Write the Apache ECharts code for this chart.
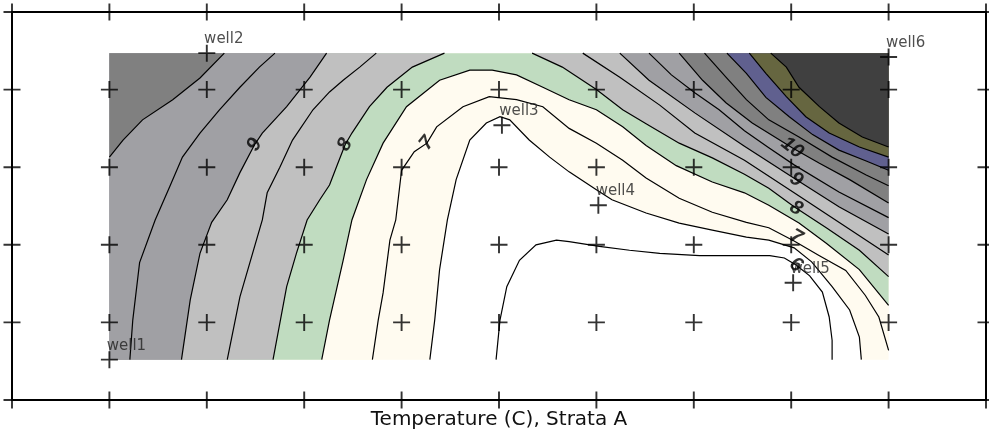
<!DOCTYPE html>
<html><head><meta charset="utf-8">
<script src="https://cdn.jsdelivr.net/npm/echarts@6/dist/echarts.min.js"></script>
<style>html,body{margin:0;padding:0;background:#fff}#c{width:989px;height:441px}</style>
</head><body><div id="c"></div>
<script>
// ---------- data ----------
const chartTitle = 'Temperature (C), Strata A';

const wellNames = ['well1', 'well2', 'well3', 'well4', 'well5', 'well6'];
const wellX = [1.00, 2.00, 5.03, 6.02, 8.02, 9.00];
const wellY = [0.52, 4.47, 3.54, 2.51, 1.51, 4.42];

const markerX = [0, 1, 2, 3, 4, 5, 6, 7, 8, 9, 10];
const markerY = [0, 1, 2, 3, 4, 5];

// contour lines (map units), oriented so that higher values lie on the left
const c6 = [[4.97,0.52],[5.01,1.03],[5.08,1.46],[5.21,1.80],[5.38,2.00],[5.59,2.06],[5.72,2.04],[6.03,1.98],[6.34,1.93],[6.65,1.89],[7.06,1.86],[7.47,1.86],[7.78,1.86],[7.93,1.83],[8.05,1.74],[8.19,1.60],[8.32,1.39],[8.39,1.07],[8.42,0.77],[8.42,0.52]];
const c6_5 = [[4.29,0.52],[4.34,1.03],[4.39,1.68],[4.47,2.32],[4.56,2.84],[4.70,3.35],[4.87,3.57],[5.01,3.65],[5.11,3.61],[5.31,3.35],[5.52,3.13],[5.72,2.94],[6.00,2.71],[6.16,2.58],[6.51,2.41],[6.85,2.28],[7.19,2.19],[7.54,2.10],[7.77,2.06],[8.03,1.96],[8.21,1.78],[8.42,1.46],[8.60,1.16],[8.70,0.81],[8.72,0.52]];
const c7 = [[3.70,0.52],[3.76,1.03],[3.81,1.38],[3.88,2.06],[3.94,2.32],[4.00,2.96],[4.13,3.20],[4.26,3.31],[4.36,3.52],[4.63,3.78],[4.90,3.91],[5.18,3.87],[5.45,3.78],[5.72,3.50],[6.00,3.31],[6.27,3.09],[6.51,2.86],[6.85,2.60],[7.19,2.42],[7.54,2.29],[7.77,2.22],[8.03,2.05],[8.29,1.86],[8.56,1.67],[8.76,1.35],[8.90,1.07],[9.00,0.64]];
const c7_5 = [[3.18,0.52],[3.26,1.03],[3.40,1.80],[3.49,2.32],[3.64,2.84],[3.81,3.31],[4.05,3.78],[4.39,4.12],[4.70,4.25],[4.93,4.25],[5.18,4.19],[5.45,4.03],[5.72,3.87],[6.00,3.74],[6.27,3.52],[6.51,3.28],[6.82,3.02],[7.19,2.81],[7.52,2.67],[7.77,2.51],[8.08,2.28],[8.36,2.02],[8.70,1.68],[9.00,1.22]];
const c8_west = [[2.68,0.52],[2.82,1.46],[2.92,1.89],[3.03,2.32],[3.16,2.58],[3.26,2.77],[3.33,3.00],[3.42,3.29],[3.49,3.44],[3.67,3.78],[3.85,4.03],[4.11,4.29],[4.44,4.47]];
const c8_east = [[5.34,4.47],[5.65,4.29],[6.00,4.00],[6.27,3.74],[6.51,3.56],[6.85,3.31],[7.19,3.12],[7.52,2.91],[7.77,2.73],[8.03,2.49],[8.36,2.22],[8.70,1.93],[9.00,1.59]];
const c8_5_west = [[2.21,0.52],[2.34,1.33],[2.47,1.89],[2.57,2.32],[2.62,2.67],[2.75,3.00],[2.88,3.35],[3.09,3.74],[3.26,3.97],[3.40,4.12],[3.57,4.29],[3.74,4.47]];
const c8_5_east = [[5.86,4.47],[6.24,4.16],[6.65,3.80],[7.01,3.44],[7.52,3.09],[8.03,2.67],[8.49,2.29],[9.00,1.87]];
const c9_west = [[1.74,0.52],[1.83,1.29],[1.93,1.89],[2.05,2.29],[2.21,2.58],[2.34,2.93],[2.49,3.29],[2.57,3.44],[2.82,3.78],[3.06,4.16],[3.23,4.47]];
const c9_east = [[6.24,4.47],[6.54,4.12],[7.01,3.70],[7.52,3.27],[8.05,2.84],[8.49,2.49],[9.00,2.14]];
const c9_5_west = [[1.21,0.52],[1.24,1.03],[1.31,1.77],[1.47,2.32],[1.62,2.75],[1.75,3.13],[1.93,3.44],[2.13,3.74],[2.34,4.03],[2.54,4.29],[2.70,4.47]];
const c9_5_east = [[6.54,4.47],[6.77,4.19],[7.01,3.96],[7.26,3.74],[7.52,3.47],[7.77,3.25],[8.03,3.03],[8.49,2.68],[9.00,2.35]];
const c10_west = [[1.00,3.13],[1.14,3.35],[1.34,3.61],[1.65,3.87],[1.93,4.15],[2.18,4.47]];
const c10_east = [[6.85,4.47],[7.09,4.12],[7.33,3.83],[7.60,3.57],[8.01,3.25],[8.29,3.05],[8.60,2.84],[9.00,2.54]];
const c10_5 = [[7.11,4.47],[7.33,4.16],[7.54,3.87],[7.77,3.61],[8.08,3.39],[8.42,3.13],[8.77,2.90],[9.00,2.76]];
const c11 = [[7.34,4.47],[7.54,4.21],[7.74,3.90],[7.98,3.65],[8.22,3.42],[8.49,3.22],[8.77,3.08],[9.00,2.96]];
const c11_5 = [[7.57,4.47],[7.74,4.21],[7.95,3.91],[8.15,3.65],[8.39,3.44],[8.70,3.26],[9.00,3.13]];
const c12 = [[7.79,4.47],[7.95,4.29],[8.08,4.03],[8.29,3.78],[8.49,3.57],[8.73,3.39],[9.00,3.26]];

// colour bands: value ranges starting at these levels
const bandStart = [6, 6.5, 7.5, 8, 9, 10, 11, 11.5, 12];

// contour labels
const labelText = ['9', '8', '7', '10', '9', '8', '7', '6'];
const labelX = [2.49, 3.42, 4.26, 8.01, 8.05, 8.05, 8.05, 8.05];
const labelY = [3.29, 3.29, 3.31, 3.25, 2.84, 2.47, 2.10, 1.74];
const labelAngle = [62, 62, 52, -38, -33, -30, -30, -35];

// ---------- styles ----------
const bandColor = ['#ffffff', '#fffbf0', '#c0dcc0', '#c0c0c0', '#a0a0a4', '#808080', '#60608f', '#666640', '#404040'];

// ---------- build ----------
const contours = [
  {level: 6, pts: c6}, {level: 6.5, pts: c6_5}, {level: 7, pts: c7}, {level: 7.5, pts: c7_5},
  {level: 8, pts: c8_west}, {level: 8, pts: c8_east},
  {level: 8.5, pts: c8_5_west}, {level: 8.5, pts: c8_5_east},
  {level: 9, pts: c9_west}, {level: 9, pts: c9_east},
  {level: 9.5, pts: c9_5_west}, {level: 9.5, pts: c9_5_east},
  {level: 10, pts: c10_west}, {level: 10, pts: c10_east},
  {level: 10.5, pts: c10_5}, {level: 11, pts: c11}, {level: 11.5, pts: c11_5}, {level: 12, pts: c12}
];

const X0 = Math.min(...wellX), X1 = Math.max(...wellX);
const Y0 = Math.min(...wellY), Y1 = Math.max(...wellY);
const W = X1 - X0, H = Y1 - Y0, P = 2 * (W + H);

function snap(q) {
  const d = [Math.abs(q[1] - Y0), Math.abs(q[0] - X1), Math.abs(q[1] - Y1), Math.abs(q[0] - X0)];
  const k = d.indexOf(Math.min(...d));
  if (k === 0) q[1] = Y0; else if (k === 1) q[0] = X1; else if (k === 2) q[1] = Y1; else q[0] = X0;
  return k;
}
function perim(q, k) {
  if (k === 0) return q[0] - X0;
  if (k === 1) return W + (q[1] - Y0);
  if (k === 2) return W + H + (X1 - q[0]);
  return 2 * W + H + (Y1 - q[1]);
}
function colorFor(level) {
  let c = bandColor[0];
  bandStart.forEach((b, i) => { if (level >= b) c = bandColor[i]; });
  return c;
}
const pieces = contours.map(c => {
  const pts = c.pts.map(q => [q[0], q[1]]);
  const ka = snap(pts[0]);
  const kb = snap(pts[pts.length - 1]);
  const s = perim(pts[pts.length - 1], kb);
  let t = perim(pts[0], ka);
  if (t <= s) t += P;
  const corners = [[X0, Y0, 0], [X1, Y0, W], [X1, Y1, W + H], [X0, Y1, 2 * W + H]];
  const extra = [];
  [0, P].forEach(rep => corners.forEach(cc => {
    const cs = cc[2] + rep;
    if (cs > s + 1e-9 && cs < t - 1e-9) extra.push([cs, [cc[0], cc[1]]]);
  }));
  extra.sort((a, b) => a[0] - b[0]);
  return {line: pts, poly: pts.concat(extra.map(e => e[1])), color: colorFor(c.level)};
});

const crossPath = 'path://M7.1,0H8.9V7.1H16V8.9H8.9V16H7.1V8.9H0V7.1H7.1Z';
const markers = [];
markerY.forEach(y => markerX.forEach(x => markers.push([x, y])));

const chart = echarts.init(document.getElementById('c'), null, {renderer: 'canvas'});
chart.setOption({
  animation: false,
  backgroundColor: '#ffffff',
  grid: {left: 12, right: 3, top: 12, bottom: 41, show: true, borderColor: '#000', borderWidth: 2, backgroundColor: 'transparent'},
  xAxis: {type: 'value', min: 0, max: 10, show: false},
  yAxis: {type: 'value', min: 0, max: 5, show: false},
  graphic: [{
    type: 'text', x: 499, y: 410, silent: true,
    style: {text: chartTitle, align: 'center', verticalAlign: 'top', textAlign: 'center', textVerticalAlign: 'top',
            fontFamily: 'DejaVu Sans', fontSize: 20, fill: '#111'}
  }],
  series: [
    {
      type: 'custom', coordinateSystem: 'cartesian2d', silent: true, z: 1,
      data: pieces.map(p => [p.line[0][0], p.line[0][1]]),
      encode: {x: 0, y: 1},
      renderItem: (params, api) => {
        const p = pieces[params.dataIndex];
        return {type: 'polygon', shape: {points: p.poly.map(q => api.coord(q))}, style: {fill: p.color, stroke: null}};
      }
    },
    {
      type: 'custom', coordinateSystem: 'cartesian2d', silent: true, z: 2,
      data: pieces.map(p => [p.line[0][0], p.line[0][1]]),
      encode: {x: 0, y: 1},
      renderItem: (params, api) => {
        const p = pieces[params.dataIndex];
        return {type: 'polyline', shape: {points: p.line.map(q => api.coord(q))}, style: {stroke: '#000', lineWidth: 1.2, fill: null}};
      }
    },
    {
      type: 'scatter', silent: true, z: 5,
      symbol: crossPath, symbolSize: 17,
      itemStyle: {color: '#000'},
      data: markers
    },
    {
      type: 'scatter', silent: true, z: 6,
      symbol: crossPath, symbolSize: 17,
      itemStyle: {color: '#000'},
      label: {show: true, position: 'top', distance: 0, offset: [17, 2], formatter: '{b}',
              fontFamily: 'DejaVu Sans', fontSize: 15, color: '#222'},
      data: wellNames.map((n, i) => ({name: n, value: [wellX[i], wellY[i]]}))
    },
    {
      type: 'scatter', silent: true, z: 7,
      symbolSize: 1, itemStyle: {color: 'rgba(0,0,0,0)'},
      label: {show: true, position: 'inside', formatter: '{b}', fontFamily: 'Liberation Sans',
              fontSize: 20, fontWeight: 'bold', fontStyle: 'italic', color: '#000'},
      data: labelText.map((t, i) => ({name: t, value: [labelX[i], labelY[i]], label: {rotate: labelAngle[i]}}))
    }
  ]
});
</script>
</body></html>
